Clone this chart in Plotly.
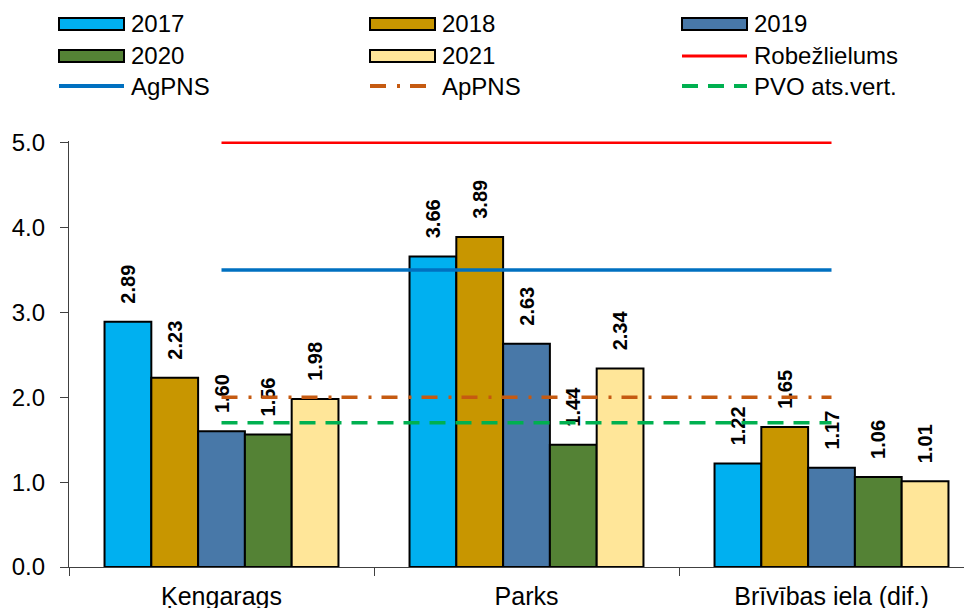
import plotly.graph_objects as go

FONT = "Liberation Sans, Arial, sans-serif"

# --------------------------------------------------
# Data
# --------------------------------------------------
categories = ["Ķengarags", "Parks", "Brīvības iela (dif.)"]

years = ["2017", "2018", "2019", "2020", "2021"]
values_2017 = [2.89, 3.66, 1.22]
values_2018 = [2.23, 3.89, 1.65]
values_2019 = [1.60, 2.63, 1.17]
values_2020 = [1.56, 1.44, 1.06]
values_2021 = [1.98, 2.34, 1.01]
bar_values = [values_2017, values_2018, values_2019, values_2020, values_2021]
bar_colors = ["#00B0F0", "#C89600", "#4878A8", "#548235", "#FFE699"]

limit_names = ["Robežlielums", "AgPNS", "ApPNS", "PVO ats.vert."]
limit_values = [5.0, 3.5, 2.0, 1.7]
limit_colors = ["#FF0000", "#0070C0", "#C55A11", "#00B050"]
limit_widths = [2.5, 3.5, 3.5, 3.5]
limit_dashes = ["solid", "solid", "16px,11px,3px,10px", "16px,10px"]

y_ticks = [0, 1, 2, 3, 4, 5]

# --------------------------------------------------
# Geometry (page has an 8px body margin)
# --------------------------------------------------
OFF = 8
W, H = 976, 608
ML, MR, MT, MB = 61, 0, 133, 49


def px_x(px):
    return (px - OFF - ML) / (W - ML - MR)


def px_y(py):
    return (H - MB - (py - OFF)) / (H - MT - MB)


fig = go.Figure()

# bars
for year, vals, color in zip(years, bar_values, bar_colors):
    fig.add_trace(
        go.Bar(
            name=year,
            x=categories,
            y=vals,
            marker=dict(color=color, line=dict(color="black", width=2)),
            texttemplate="\u00a0\u00a0\u2009%{y:.2f}",
            textposition="outside",
            textangle=-90,
            constraintext="none",
            textfont=dict(size=20, family=FONT, color="black", weight="bold"),
            cliponaxis=False,
            showlegend=False,
        )
    )

# limit lines
for name, val, color, width, dash in zip(
    limit_names, limit_values, limit_colors, limit_widths, limit_dashes
):
    fig.add_trace(
        go.Scatter(
            name=name,
            x=[categories[0], categories[-1]],
            y=[val, val],
            mode="lines",
            line=dict(color=color, width=width, dash=dash),
            showlegend=False,
        )
    )

# --------------------------------------------------
# Legend (3 columns, drawn as shapes + text)
# --------------------------------------------------
legend_items = (
    [("bar", y, c, None, None) for y, c in zip(years, bar_colors)]
    + [("line", n, c, w, d) for n, c, w, d in zip(limit_names, limit_colors, limit_widths, limit_dashes)]
)
col_x = [59, 370, 682]
row_y = [24, 56, 86]
sym_w = 65

for i, (kind, label, color, width, dash) in enumerate(legend_items):
    x0 = col_x[i % 3]
    yc = row_y[i // 3]
    if kind == "bar":
        fig.add_shape(
            type="rect", xref="paper", yref="paper",
            x0=px_x(x0), x1=px_x(x0 + sym_w),
            y0=px_y(yc - 6), y1=px_y(yc + 6),
            fillcolor=color, line=dict(color="black", width=2),
        )
    else:
        fig.add_shape(
            type="line", xref="paper", yref="paper",
            x0=px_x(x0), x1=px_x(x0 + sym_w),
            y0=px_y(yc), y1=px_y(yc),
            line=dict(color=color, width=width + 0.5, dash=dash),
        )
    fig.add_annotation(
        text=label, xref="paper", yref="paper",
        x=px_x(x0 + sym_w + 5), y=px_y(yc),
        xanchor="left", yanchor="middle", showarrow=False,
        font=dict(size=24, family=FONT, color="black"),
    )

fig.update_layout(
    width=W,
    height=H,
    margin=dict(l=ML, r=MR, t=MT, b=MB),
    barmode="group",
    bargap=0.233,
    bargroupgap=0,
    plot_bgcolor="white",
    paper_bgcolor="white",
    showlegend=False,
    font=dict(family=FONT, size=24, color="black"),
)

fig.update_xaxes(
    range=[-0.5, 2.5],
    tickson="boundaries",
    ticks="outside",
    ticklen=8,
    tickcolor="#404040",
    showline=True,
    linecolor="#404040",
    linewidth=1.3,
    showgrid=False,
    tickfont=dict(size=25),
    ticklabelstandoff=7,
)

fig.update_yaxes(
    range=[0, 5.02],
    tickvals=y_ticks,
    tickformat=".1f",
    ticks="outside",
    ticklen=8,
    tickcolor="#404040",
    showline=True,
    linecolor="#404040",
    linewidth=1.3,
    showgrid=False,
    zeroline=False,
    tickfont=dict(size=24),
    ticklabelstandoff=10,
)

fig.write_html("out.html")
